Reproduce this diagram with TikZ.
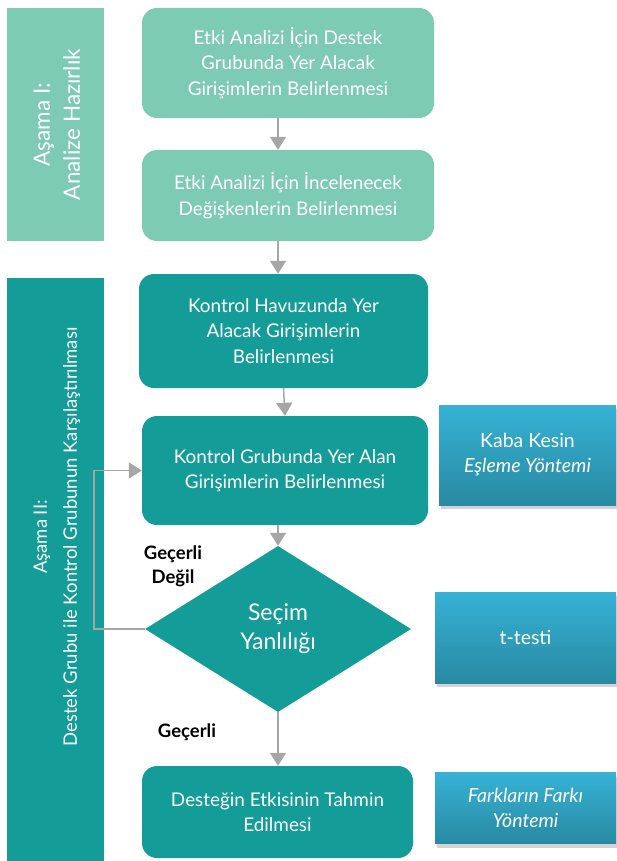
\documentclass[tikz,border=0pt]{standalone}
\usepackage{fontspec}
\setmainfont{Lato}
\usetikzlibrary{shapes.geometric,arrows.meta,shadows}
\definecolor{lgreen}{RGB}{126,203,179}
\definecolor{teal2}{RGB}{20,156,152}
\definecolor{arrgray}{RGB}{166,166,166}
\definecolor{btop}{RGB}{54,178,214}
\definecolor{bbot}{RGB}{40,138,162}
\tikzset{
  lbox/.style={draw=none, fill=lgreen, rounded corners=15pt, text=white, align=center, font=\fontsize{18.9}{25.5}\selectfont, inner sep=0pt},
  tbox/.style={draw=none, fill=teal2, rounded corners=15pt, text=white, align=center, font=\fontsize{18.9}{25.5}\selectfont, inner sep=0pt},
  bar/.style={draw=none, inner sep=0pt},
  bartext/.style={text=white, align=center, rotate=90},
  bluebox/.style={draw=none, top color=btop, bottom color=bbot, text=white, align=center, font=\fontsize{19.5}{25}\selectfont, inner sep=0pt, drop shadow={shadow xshift=2pt, shadow yshift=-4pt, opacity=0.35}},
  arr/.style={draw=arrgray, line width=1.5pt, -{Triangle[width=16pt,length=13pt]}},
  lab/.style={font=\fontsize{18.5}{24}\selectfont\bfseries, align=center, text=black}
}
\begin{document}
\begin{tikzpicture}[x=1pt,y=-1pt]
\useasboundingbox (0,0) rectangle (616,861);
% phase bars
\node[bar, fill=lgreen, minimum width=97pt, minimum height=233pt] (p1) at (55.5,124.5) {};
\node[bartext, font=\fontsize{22.5}{30}\selectfont] (p1t) at (57,124.5) {Aşama I:\\Analize Hazırlık};
\node[bar, fill=teal2, minimum width=97pt, minimum height=585pt] (p2) at (55.5,570.5) {};
\node[bartext, font=\fontsize{18.5}{30}\selectfont] (p2t) at (57,537) {Aşama II:\\Destek Grubu ile Kontrol Grubunun Karşılaştırılması};
% boxes
\node[lbox, minimum width=292pt, minimum height=110pt] (b1) at (288,63) {Etki Analizi İçin Destek\\Grubunda Yer Alacak\\Girişimlerin Belirlenmesi};
\node[lbox, minimum width=292pt, minimum height=91pt] (b2) at (288,195.5) {Etki Analizi İçin İncelenecek\\Değişkenlerin Belirlenmesi};
\node[tbox, minimum width=289pt, minimum height=114pt] (b3) at (283.5,331) {Kontrol Havuzunda Yer\\Alacak Girişimlerin\\Belirlenmesi};
\node[tbox, minimum width=286pt, minimum height=109pt] (b4) at (285,470.5) {Kontrol Grubunda Yer Alan\\Girişimlerin Belirlenmesi};
\node[diamond, fill=teal2, aspect=1.6, minimum width=266pt, minimum height=166pt, inner sep=0pt, text=white, align=center, font=\fontsize{23}{29}\selectfont] (d) at (278,629) {Seçim\\Yanlılığı};
\node[tbox, minimum width=271pt, minimum height=92pt] (b5) at (277.5,812) {Desteğin Etkisinin Tahmin\\Edilmesi};
% blue boxes
\node[bluebox, minimum width=177pt, minimum height=100pt] (k1) at (527.5,455) {Kaba Kesin\\\textit{Eşleme Yöntemi}};
\node[bluebox, minimum width=181pt, minimum height=91pt] (k2) at (525.5,637.5) {t-testi};
\node[bluebox, minimum width=181pt, minimum height=71pt] (k3) at (525.5,808) {\textit{Farkların Farkı}\\\textit{Yöntemi}};
% labels
\node[lab] (l1) at (173,566) {Geçerli\\Değil};
\node[lab] (l2) at (187,732) {Geçerli};
% arrows
\draw[arr] (b1.south -| d.north) -- (b2.north -| d.north);
\draw[arr] (b2.south -| d.north) -- (b3.north -| d.north);
\draw[arr] (b3.south) -- (b4.north);
\draw[arr] (d.north |- b4.south) -- (d.north);
\draw[arr] (d.south) -- (b5.north -| d.south);
\coordinate (lp) at (94,0);
\draw[arr] (d.west) -- (d.west -| lp) -- (b4.west -| lp) -- (b4.west);
\end{tikzpicture}
\end{document}
